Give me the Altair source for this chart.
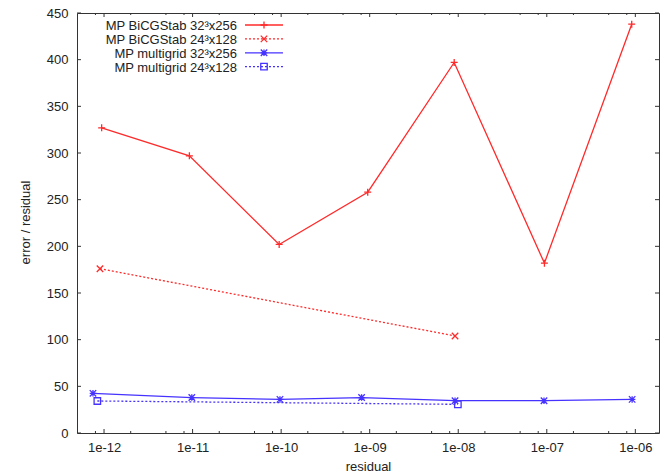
import altair as alt
import pandas as pd

# ---------------- data ----------------
series_names = ["MP BiCGStab 32³x256", "MP BiCGStab 24³x128",
                "MP multigrid 32³x256", "MP multigrid 24³x128"]

bicg32_x = [9.4e-13, 9.2e-12, 9.5e-11, 9.5e-10, 9.0e-9, 9.4e-8, 9.1e-7]
bicg32_y = [327, 297, 202, 258, 397, 182, 438]

bicg24_x = [9.0e-13, 9.2e-9]
bicg24_y = [176, 104]

mg32_x = [7.5e-13, 9.8e-12, 9.7e-11, 8.1e-10, 9.2e-9, 9.3e-8, 9.2e-7]
mg32_y = [42.5, 38, 36, 38, 34.6, 34.6, 36]

mg24_x = [8.4e-13, 9.9e-9]
mg24_y = [34.3, 30.7]

x_major = [1e-12, 1e-11, 1e-10, 1e-9, 1e-8, 1e-7, 1e-6]
x_tick_labels = ["1e-12", "1e-11", "1e-10", "1e-09", "1e-08", "1e-07", "1e-06"]
x_minor = [8e-13,
           2e-12, 5e-12, 8e-12,
           2e-11, 5e-11, 8e-11,
           2e-10, 5e-10, 8e-10,
           2e-9, 5e-9, 8e-9,
           2e-8, 5e-8, 8e-8,
           2e-7, 5e-7, 8e-7]
y_ticks = [0, 50, 100, 150, 200, 250, 300, 350, 400, 450]

# ---------------- styling ----------------
W, H = 582, 420
FONT = "Liberation Sans"
RED = "#ff2a2a"
BLUE = "#4632ff"
AXC = "#333333"

PLUS = "M-1,0L1,0M0,-1L0,1"
XMARK = "M-1,-1L1,1M-1,1L1,-1"
STAR = "M-1,0L1,0M0,-1L0,1M-1,-1L1,1M-1,1L1,-1"

label_array = "[" + ",".join("'%s'" % s for s in x_tick_labels) + "]"
xaxis = alt.Axis(values=x_major, ticks=False, domain=False, grid=False,
                 labelExpr=label_array + "[round(log(datum.value)/LN10)+12]",
                 labelPadding=8, title="residual", titleY=33,
                 titleBaseline="middle")
yaxis = alt.Axis(values=y_ticks, ticks=False, domain=False, grid=False,
                 labelPadding=9, title="error / residual", titleAngle=-90,
                 titleX=-52, titleY=209, titleAlign="center",
                 titleBaseline="middle")
xs = alt.Scale(type="log", domain=[4.95e-13, 1.85e-6])
ys = alt.Scale(domain=[0, 450])


def X(field="x"):
    return alt.X(f"{field}:Q", scale=xs, axis=xaxis)


def Y(field="y"):
    return alt.Y(f"{field}:Q", scale=ys, axis=yaxis)


def series(xv, yv, color, dash, shape, size):
    df = pd.DataFrame({"x": xv, "y": yv})
    base = alt.Chart(df)
    line_kw = dict(color=color, strokeWidth=1.3, clip=True)
    if dash:
        line_kw["strokeDash"] = dash
    line = base.mark_line(**line_kw).encode(x=X(), y=Y())
    pts = base.mark_point(shape=shape, size=size, filled=False, stroke=color,
                          strokeWidth=1.3, opacity=1).encode(x=X(), y=Y())
    return [line, pts]


layers = []
layers += series(bicg32_x, bicg32_y, RED, None, PLUS, 49)
layers += series(bicg24_x, bicg24_y, RED, [2, 2], XMARK, 42)
layers += series(mg32_x, mg32_y, BLUE, None, STAR, 42)
layers += series(mg24_x, mg24_y, BLUE, [2, 2], "square", 42)

# inward ticks (gnuplot style), on all four sides
maj_df = pd.DataFrame({"v": x_major})
min_df = pd.DataFrame({"v": x_minor})
yt_df = pd.DataFrame({"v": y_ticks})
tick_kw = dict(color=AXC, strokeWidth=1)
layers.append(alt.Chart(maj_df).mark_rule(**tick_kw).encode(
    x=X("v"), y=alt.value(H), y2=alt.value(H - 4)))
layers.append(alt.Chart(maj_df).mark_rule(**tick_kw).encode(
    x=X("v"), y=alt.value(0), y2=alt.value(4)))
layers.append(alt.Chart(min_df).mark_rule(**tick_kw).encode(
    x=X("v"), y=alt.value(H), y2=alt.value(H - 2)))
layers.append(alt.Chart(min_df).mark_rule(**tick_kw).encode(
    x=X("v"), y=alt.value(0), y2=alt.value(2)))
layers.append(alt.Chart(yt_df).mark_rule(**tick_kw).encode(
    y=Y("v"), x=alt.value(0), x2=alt.value(4)))
layers.append(alt.Chart(yt_df).mark_rule(**tick_kw).encode(
    y=Y("v"), x=alt.value(W), x2=alt.value(W - 4)))

# legend (top-left, gnuplot style: text right-aligned, sample to the right)
leg_styles = [
    (RED, None, PLUS, 49),
    (RED, [2, 2], XMARK, 42),
    (BLUE, None, STAR, 42),
    (BLUE, [2, 2], "square", 42),
]
for i, (name, (col, dash, shp, sz)) in enumerate(zip(series_names, leg_styles)):
    yy = 12 + 13.9 * i
    d = pd.DataFrame({"label": [name]})
    layers.append(alt.Chart(d).mark_text(
        align="right", baseline="middle", font=FONT, fontSize=13,
        color="#222222").encode(
        text="label:N", x=alt.value(160), y=alt.value(yy + 1)))
    rk = dict(color=col, strokeWidth=1.3)
    if dash:
        rk["strokeDash"] = dash
    layers.append(alt.Chart(d).mark_rule(**rk).encode(
        x=alt.value(168), x2=alt.value(206), y=alt.value(yy)))
    layers.append(alt.Chart(d).mark_point(
        shape=shp, size=sz, filled=False, stroke=col, strokeWidth=1.3,
        opacity=1).encode(x=alt.value(187), y=alt.value(yy)))

chart = alt.layer(*layers).properties(
    width=W, height=H,
    padding={"left": 77, "top": 13, "right": 2, "bottom": 41},
    autosize=alt.AutoSizeParams(type="none"),
    background="white",
).configure_view(
    stroke=AXC, strokeWidth=1
).configure_axis(
    labelFont=FONT, labelFontSize=13, labelColor="#222222",
    titleFont=FONT, titleFontSize=13, titleColor="#222222",
    titleFontWeight="normal",
)

chart.save("out.html", embed_options={"renderer": "svg", "actions": False})
